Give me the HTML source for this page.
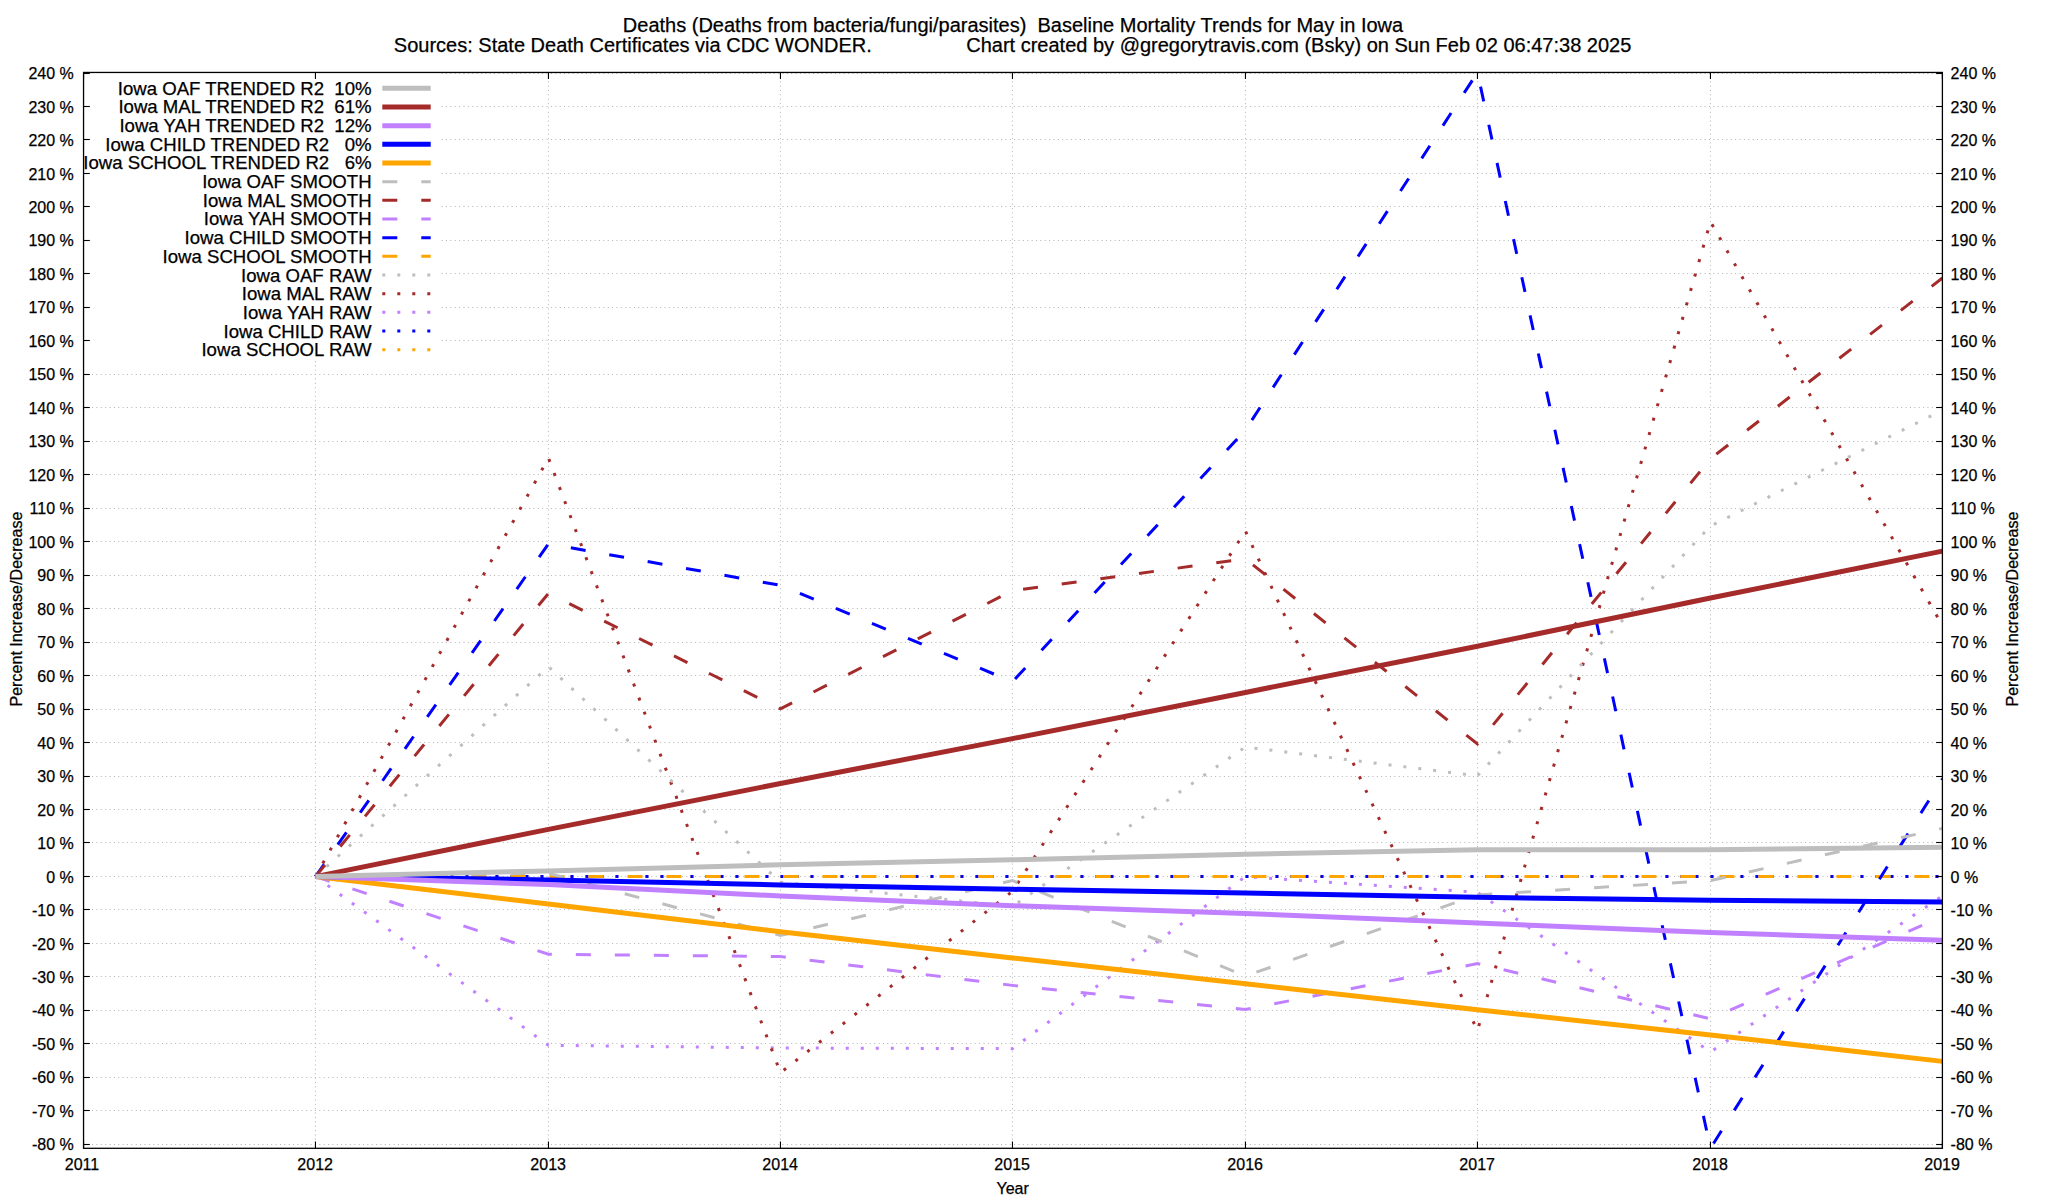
<!DOCTYPE html>
<html><head><meta charset="utf-8"><title>Deaths Baseline Mortality Trends for May in Iowa</title>
<style>
html,body{margin:0;padding:0;background:#fff;}
body{width:2048px;height:1200px;overflow:hidden;}
svg{display:block;}
text{font-family:"Liberation Sans",Arial,Helvetica,sans-serif;fill:#000;white-space:pre;stroke:#000;stroke-width:0.25px;}
.t20{font-size:20px}.t18{font-size:18.6px}.t16{font-size:16px}
</style></head><body>
<svg width="2048" height="1200" viewBox="0 0 2048 1200">
<rect width="2048" height="1200" fill="#fff"/>
<text class="t20" x="1013" y="31.6" text-anchor="middle">Deaths (Deaths from bacteria/fungi/parasites)  Baseline Mortality Trends for May in Iowa</text>
<text class="t20" x="1012.6" y="51.9" text-anchor="middle">Sources: State Death Certificates via CDC WONDER.                 Chart created by @gregorytravis.com (Bsky) on Sun Feb 02 06:47:38 2025</text>
<g stroke="#b4b4b4" stroke-width="1" stroke-dasharray="1 3.37" fill="none">
<line x1="92.05" y1="1144.50" x2="1935.40" y2="1144.50"/>
<line x1="92.05" y1="1110.50" x2="1935.40" y2="1110.50"/>
<line x1="92.05" y1="1077.50" x2="1935.40" y2="1077.50"/>
<line x1="92.05" y1="1043.50" x2="1935.40" y2="1043.50"/>
<line x1="92.05" y1="1010.50" x2="1935.40" y2="1010.50"/>
<line x1="92.05" y1="976.50" x2="1935.40" y2="976.50"/>
<line x1="92.05" y1="943.50" x2="1935.40" y2="943.50"/>
<line x1="92.05" y1="909.50" x2="1935.40" y2="909.50"/>
<line x1="92.05" y1="876.50" x2="1935.40" y2="876.50"/>
<line x1="92.05" y1="842.50" x2="1935.40" y2="842.50"/>
<line x1="92.05" y1="809.50" x2="1935.40" y2="809.50"/>
<line x1="92.05" y1="776.50" x2="1935.40" y2="776.50"/>
<line x1="92.05" y1="742.50" x2="1935.40" y2="742.50"/>
<line x1="92.05" y1="709.50" x2="1935.40" y2="709.50"/>
<line x1="92.05" y1="675.50" x2="1935.40" y2="675.50"/>
<line x1="92.05" y1="642.50" x2="1935.40" y2="642.50"/>
<line x1="92.05" y1="608.50" x2="1935.40" y2="608.50"/>
<line x1="92.05" y1="575.50" x2="1935.40" y2="575.50"/>
<line x1="92.05" y1="541.50" x2="1935.40" y2="541.50"/>
<line x1="92.05" y1="508.50" x2="1935.40" y2="508.50"/>
<line x1="92.05" y1="474.50" x2="1935.40" y2="474.50"/>
<line x1="92.05" y1="441.50" x2="1935.40" y2="441.50"/>
<line x1="92.05" y1="407.50" x2="1935.40" y2="407.50"/>
<line x1="92.05" y1="374.50" x2="1935.40" y2="374.50"/>
<line x1="92.05" y1="340.50" x2="1935.40" y2="340.50"/>
<line x1="92.05" y1="307.50" x2="1935.40" y2="307.50"/>
<line x1="92.05" y1="273.50" x2="1935.40" y2="273.50"/>
<line x1="92.05" y1="240.50" x2="1935.40" y2="240.50"/>
<line x1="92.05" y1="206.50" x2="1935.40" y2="206.50"/>
<line x1="92.05" y1="173.50" x2="1935.40" y2="173.50"/>
<line x1="92.05" y1="139.50" x2="1935.40" y2="139.50"/>
<line x1="92.05" y1="106.50" x2="1935.40" y2="106.50"/>
<line x1="92.05" y1="73.50" x2="1935.40" y2="73.50"/>
<line x1="315.45" y1="1139.80" x2="315.45" y2="79.45"/>
<line x1="548.45" y1="1139.80" x2="548.45" y2="79.45"/>
<line x1="780.45" y1="1139.80" x2="780.45" y2="79.45"/>
<line x1="1012.45" y1="1139.80" x2="1012.45" y2="79.45"/>
<line x1="1245.45" y1="1139.80" x2="1245.45" y2="79.45"/>
<line x1="1477.45" y1="1139.80" x2="1477.45" y2="79.45"/>
<line x1="1710.45" y1="1139.80" x2="1710.45" y2="79.45"/>
</g>
<clipPath id="pc"><rect x="83.55" y="72.45" width="1858.8500000000001" height="1075.85"/></clipPath>
<g clip-path="url(#pc)" fill="none" stroke-linejoin="miter" stroke-linecap="butt">
<polyline stroke="#ffa500" stroke-width="3" stroke-dasharray="3 12" points="315.45,876.58 548.45,876.58 780.45,876.58 1012.45,876.58 1245.45,876.58 1477.45,876.58 1710.45,876.58 1942.40,876.58"/>
<polyline stroke="#0000ff" stroke-width="3" stroke-dasharray="3 12" points="315.45,876.58 548.45,876.58 780.45,876.58 1012.45,876.58 1245.45,876.58 1477.45,876.58 1710.45,876.58 1942.40,876.58"/>
<polyline stroke="#c080ff" stroke-width="3" stroke-dasharray="3 12" points="315.45,876.58 548.45,1045.30 780.45,1047.98 1012.45,1048.65 1245.45,876.58 1477.45,892.31 1710.45,1052.00 1942.40,895.99"/>
<polyline stroke="#a52a2a" stroke-width="3" stroke-dasharray="3 12" points="315.45,876.58 548.45,458.10 780.45,1072.76 1012.45,891.31 1245.45,531.08 1477.45,1030.57 1710.45,221.74 1942.40,625.49"/>
<polyline stroke="#bebebe" stroke-width="3" stroke-dasharray="3 12" points="315.45,876.58 548.45,666.67 780.45,882.27 1012.45,906.37 1245.45,747.01 1477.45,775.81 1710.45,526.06 1942.40,410.22"/>
<polyline stroke="#ffa500" stroke-width="3" stroke-dasharray="15 24" points="315.45,876.58 548.45,876.58 780.45,876.58 1012.45,876.58 1245.45,876.58 1477.45,876.58 1710.45,876.58 1942.40,876.58"/>
<polyline stroke="#0000ff" stroke-width="3" stroke-dasharray="15 24" points="315.45,876.58 548.45,543.80 780.45,585.32 1012.45,681.73 1245.45,429.98 1477.45,72.43 1710.45,1148.32 1942.40,778.82"/>
<polyline stroke="#c080ff" stroke-width="3" stroke-dasharray="15 24" points="315.45,876.58 548.45,954.24 780.45,956.59 1012.45,985.38 1245.45,1009.48 1477.45,963.62 1710.45,1018.86 1942.40,916.41"/>
<polyline stroke="#a52a2a" stroke-width="3" stroke-dasharray="15 24" points="315.45,876.58 548.45,593.35 780.45,708.85 1012.45,590.67 1245.45,558.87 1477.45,744.00 1710.45,458.77 1942.40,277.99"/>
<polyline stroke="#bebebe" stroke-width="3" stroke-dasharray="15 24" points="315.45,876.58 548.45,873.23 780.45,935.50 1012.45,880.59 1245.45,976.01 1477.45,894.99 1710.45,880.59 1942.40,828.37"/>
<polyline stroke="#ffa500" stroke-width="5" points="315.45,876.58 548.45,904.03 780.45,931.81 1012.45,957.93 1245.45,983.71 1477.45,1009.82 1710.45,1034.93 1942.40,1061.37"/>
<polyline stroke="#0000ff" stroke-width="5" points="315.45,876.58 548.45,879.92 780.45,884.94 1012.45,889.30 1245.45,892.98 1477.45,897.33 1710.45,900.34 1942.40,901.92"/>
<polyline stroke="#c080ff" stroke-width="5" points="315.45,876.58 548.45,884.61 780.45,895.99 1012.45,905.70 1245.45,913.40 1477.45,923.11 1710.45,932.48 1942.40,940.18"/>
<polyline stroke="#a52a2a" stroke-width="5" points="315.45,876.58 548.45,829.37 780.45,783.51 1012.45,738.65 1245.45,692.45 1477.45,646.25 1710.45,598.04 1942.40,551.17"/>
<polyline stroke="#bebebe" stroke-width="5" points="315.45,876.58 548.45,870.88 780.45,864.86 1012.45,859.84 1245.45,854.14 1477.45,849.79 1710.45,849.63 1942.40,847.25"/>
</g>
<rect x="83.55" y="72.45" width="356.65" height="287.15000000000003" fill="#fff"/>
<g stroke="#000" stroke-width="1.1" fill="none">
<line x1="83.55" y1="1144.50" x2="89.85" y2="1144.50"/>
<line x1="1942.40" y1="1144.50" x2="1936.10" y2="1144.50"/>
<line x1="83.55" y1="1110.50" x2="89.85" y2="1110.50"/>
<line x1="1942.40" y1="1110.50" x2="1936.10" y2="1110.50"/>
<line x1="83.55" y1="1077.50" x2="89.85" y2="1077.50"/>
<line x1="1942.40" y1="1077.50" x2="1936.10" y2="1077.50"/>
<line x1="83.55" y1="1043.50" x2="89.85" y2="1043.50"/>
<line x1="1942.40" y1="1043.50" x2="1936.10" y2="1043.50"/>
<line x1="83.55" y1="1010.50" x2="89.85" y2="1010.50"/>
<line x1="1942.40" y1="1010.50" x2="1936.10" y2="1010.50"/>
<line x1="83.55" y1="976.50" x2="89.85" y2="976.50"/>
<line x1="1942.40" y1="976.50" x2="1936.10" y2="976.50"/>
<line x1="83.55" y1="943.50" x2="89.85" y2="943.50"/>
<line x1="1942.40" y1="943.50" x2="1936.10" y2="943.50"/>
<line x1="83.55" y1="909.50" x2="89.85" y2="909.50"/>
<line x1="1942.40" y1="909.50" x2="1936.10" y2="909.50"/>
<line x1="83.55" y1="876.50" x2="89.85" y2="876.50"/>
<line x1="1942.40" y1="876.50" x2="1936.10" y2="876.50"/>
<line x1="83.55" y1="842.50" x2="89.85" y2="842.50"/>
<line x1="1942.40" y1="842.50" x2="1936.10" y2="842.50"/>
<line x1="83.55" y1="809.50" x2="89.85" y2="809.50"/>
<line x1="1942.40" y1="809.50" x2="1936.10" y2="809.50"/>
<line x1="83.55" y1="776.50" x2="89.85" y2="776.50"/>
<line x1="1942.40" y1="776.50" x2="1936.10" y2="776.50"/>
<line x1="83.55" y1="742.50" x2="89.85" y2="742.50"/>
<line x1="1942.40" y1="742.50" x2="1936.10" y2="742.50"/>
<line x1="83.55" y1="709.50" x2="89.85" y2="709.50"/>
<line x1="1942.40" y1="709.50" x2="1936.10" y2="709.50"/>
<line x1="83.55" y1="675.50" x2="89.85" y2="675.50"/>
<line x1="1942.40" y1="675.50" x2="1936.10" y2="675.50"/>
<line x1="83.55" y1="642.50" x2="89.85" y2="642.50"/>
<line x1="1942.40" y1="642.50" x2="1936.10" y2="642.50"/>
<line x1="83.55" y1="608.50" x2="89.85" y2="608.50"/>
<line x1="1942.40" y1="608.50" x2="1936.10" y2="608.50"/>
<line x1="83.55" y1="575.50" x2="89.85" y2="575.50"/>
<line x1="1942.40" y1="575.50" x2="1936.10" y2="575.50"/>
<line x1="83.55" y1="541.50" x2="89.85" y2="541.50"/>
<line x1="1942.40" y1="541.50" x2="1936.10" y2="541.50"/>
<line x1="83.55" y1="508.50" x2="89.85" y2="508.50"/>
<line x1="1942.40" y1="508.50" x2="1936.10" y2="508.50"/>
<line x1="83.55" y1="474.50" x2="89.85" y2="474.50"/>
<line x1="1942.40" y1="474.50" x2="1936.10" y2="474.50"/>
<line x1="83.55" y1="441.50" x2="89.85" y2="441.50"/>
<line x1="1942.40" y1="441.50" x2="1936.10" y2="441.50"/>
<line x1="83.55" y1="407.50" x2="89.85" y2="407.50"/>
<line x1="1942.40" y1="407.50" x2="1936.10" y2="407.50"/>
<line x1="83.55" y1="374.50" x2="89.85" y2="374.50"/>
<line x1="1942.40" y1="374.50" x2="1936.10" y2="374.50"/>
<line x1="83.55" y1="340.50" x2="89.85" y2="340.50"/>
<line x1="1942.40" y1="340.50" x2="1936.10" y2="340.50"/>
<line x1="83.55" y1="307.50" x2="89.85" y2="307.50"/>
<line x1="1942.40" y1="307.50" x2="1936.10" y2="307.50"/>
<line x1="83.55" y1="273.50" x2="89.85" y2="273.50"/>
<line x1="1942.40" y1="273.50" x2="1936.10" y2="273.50"/>
<line x1="83.55" y1="240.50" x2="89.85" y2="240.50"/>
<line x1="1942.40" y1="240.50" x2="1936.10" y2="240.50"/>
<line x1="83.55" y1="206.50" x2="89.85" y2="206.50"/>
<line x1="1942.40" y1="206.50" x2="1936.10" y2="206.50"/>
<line x1="83.55" y1="173.50" x2="89.85" y2="173.50"/>
<line x1="1942.40" y1="173.50" x2="1936.10" y2="173.50"/>
<line x1="83.55" y1="139.50" x2="89.85" y2="139.50"/>
<line x1="1942.40" y1="139.50" x2="1936.10" y2="139.50"/>
<line x1="83.55" y1="106.50" x2="89.85" y2="106.50"/>
<line x1="1942.40" y1="106.50" x2="1936.10" y2="106.50"/>
<line x1="83.55" y1="73.50" x2="89.85" y2="73.50"/>
<line x1="1942.40" y1="73.50" x2="1936.10" y2="73.50"/>
<line x1="83.55" y1="1148.30" x2="83.55" y2="1141.50"/>
<line x1="83.55" y1="72.45" x2="83.55" y2="79.05"/>
<line x1="315.45" y1="1148.30" x2="315.45" y2="1141.50"/>
<line x1="315.45" y1="72.45" x2="315.45" y2="79.05"/>
<line x1="548.45" y1="1148.30" x2="548.45" y2="1141.50"/>
<line x1="548.45" y1="72.45" x2="548.45" y2="79.05"/>
<line x1="780.45" y1="1148.30" x2="780.45" y2="1141.50"/>
<line x1="780.45" y1="72.45" x2="780.45" y2="79.05"/>
<line x1="1012.45" y1="1148.30" x2="1012.45" y2="1141.50"/>
<line x1="1012.45" y1="72.45" x2="1012.45" y2="79.05"/>
<line x1="1245.45" y1="1148.30" x2="1245.45" y2="1141.50"/>
<line x1="1245.45" y1="72.45" x2="1245.45" y2="79.05"/>
<line x1="1477.45" y1="1148.30" x2="1477.45" y2="1141.50"/>
<line x1="1477.45" y1="72.45" x2="1477.45" y2="79.05"/>
<line x1="1710.45" y1="1148.30" x2="1710.45" y2="1141.50"/>
<line x1="1710.45" y1="72.45" x2="1710.45" y2="79.05"/>
<line x1="1942.40" y1="1148.30" x2="1942.40" y2="1141.50"/>
<line x1="1942.40" y1="72.45" x2="1942.40" y2="79.05"/>
</g>
<rect x="83.55" y="72.45" width="1858.8500000000001" height="1075.85" fill="none" stroke="#000" stroke-width="1.3"/>
<g class="t16">
<text x="73.8" y="1150.40" text-anchor="end">-80 %</text>
<text x="1950.6" y="1150.40">-80 %</text>
<text x="73.8" y="1116.92" text-anchor="end">-70 %</text>
<text x="1950.6" y="1116.92">-70 %</text>
<text x="73.8" y="1083.44" text-anchor="end">-60 %</text>
<text x="1950.6" y="1083.44">-60 %</text>
<text x="73.8" y="1049.97" text-anchor="end">-50 %</text>
<text x="1950.6" y="1049.97">-50 %</text>
<text x="73.8" y="1016.49" text-anchor="end">-40 %</text>
<text x="1950.6" y="1016.49">-40 %</text>
<text x="73.8" y="983.01" text-anchor="end">-30 %</text>
<text x="1950.6" y="983.01">-30 %</text>
<text x="73.8" y="949.53" text-anchor="end">-20 %</text>
<text x="1950.6" y="949.53">-20 %</text>
<text x="73.8" y="916.05" text-anchor="end">-10 %</text>
<text x="1950.6" y="916.05">-10 %</text>
<text x="73.8" y="882.58" text-anchor="end">0 %</text>
<text x="1950.6" y="882.58">0 %</text>
<text x="73.8" y="849.10" text-anchor="end">10 %</text>
<text x="1950.6" y="849.10">10 %</text>
<text x="73.8" y="815.62" text-anchor="end">20 %</text>
<text x="1950.6" y="815.62">20 %</text>
<text x="73.8" y="782.14" text-anchor="end">30 %</text>
<text x="1950.6" y="782.14">30 %</text>
<text x="73.8" y="748.66" text-anchor="end">40 %</text>
<text x="1950.6" y="748.66">40 %</text>
<text x="73.8" y="715.18" text-anchor="end">50 %</text>
<text x="1950.6" y="715.18">50 %</text>
<text x="73.8" y="681.71" text-anchor="end">60 %</text>
<text x="1950.6" y="681.71">60 %</text>
<text x="73.8" y="648.23" text-anchor="end">70 %</text>
<text x="1950.6" y="648.23">70 %</text>
<text x="73.8" y="614.75" text-anchor="end">80 %</text>
<text x="1950.6" y="614.75">80 %</text>
<text x="73.8" y="581.27" text-anchor="end">90 %</text>
<text x="1950.6" y="581.27">90 %</text>
<text x="73.8" y="547.79" text-anchor="end">100 %</text>
<text x="1950.6" y="547.79">100 %</text>
<text x="73.8" y="514.32" text-anchor="end">110 %</text>
<text x="1950.6" y="514.32">110 %</text>
<text x="73.8" y="480.84" text-anchor="end">120 %</text>
<text x="1950.6" y="480.84">120 %</text>
<text x="73.8" y="447.36" text-anchor="end">130 %</text>
<text x="1950.6" y="447.36">130 %</text>
<text x="73.8" y="413.88" text-anchor="end">140 %</text>
<text x="1950.6" y="413.88">140 %</text>
<text x="73.8" y="380.40" text-anchor="end">150 %</text>
<text x="1950.6" y="380.40">150 %</text>
<text x="73.8" y="346.93" text-anchor="end">160 %</text>
<text x="1950.6" y="346.93">160 %</text>
<text x="73.8" y="313.45" text-anchor="end">170 %</text>
<text x="1950.6" y="313.45">170 %</text>
<text x="73.8" y="279.97" text-anchor="end">180 %</text>
<text x="1950.6" y="279.97">180 %</text>
<text x="73.8" y="246.49" text-anchor="end">190 %</text>
<text x="1950.6" y="246.49">190 %</text>
<text x="73.8" y="213.01" text-anchor="end">200 %</text>
<text x="1950.6" y="213.01">200 %</text>
<text x="73.8" y="179.53" text-anchor="end">210 %</text>
<text x="1950.6" y="179.53">210 %</text>
<text x="73.8" y="146.06" text-anchor="end">220 %</text>
<text x="1950.6" y="146.06">220 %</text>
<text x="73.8" y="112.58" text-anchor="end">230 %</text>
<text x="1950.6" y="112.58">230 %</text>
<text x="73.8" y="79.10" text-anchor="end">240 %</text>
<text x="1950.6" y="79.10">240 %</text>
<text x="81.95" y="1169.8" text-anchor="middle">2011</text>
<text x="315.15" y="1169.8" text-anchor="middle">2012</text>
<text x="548.15" y="1169.8" text-anchor="middle">2013</text>
<text x="780.15" y="1169.8" text-anchor="middle">2014</text>
<text x="1012.15" y="1169.8" text-anchor="middle">2015</text>
<text x="1245.15" y="1169.8" text-anchor="middle">2016</text>
<text x="1477.15" y="1169.8" text-anchor="middle">2017</text>
<text x="1710.15" y="1169.8" text-anchor="middle">2018</text>
<text x="1942.10" y="1169.8" text-anchor="middle">2019</text>
<text x="1012.6" y="1193.7" text-anchor="middle">Year</text>
<text transform="translate(21.9,609.1) rotate(-90)" text-anchor="middle" style="font-size:16.1px">Percent Increase/Decrease</text>
<text transform="translate(2017.9,609.1) rotate(-90)" text-anchor="middle" style="font-size:16.1px">Percent Increase/Decrease</text>
</g>
<g class="t18">
<text x="371.6" y="94.80" text-anchor="end">Iowa OAF TRENDED R2  10%</text>
<line x1="382.3" y1="88.30" x2="430.7" y2="88.30" stroke="#bebebe" stroke-width="5" fill="none"/>
<text x="371.6" y="113.47" text-anchor="end">Iowa MAL TRENDED R2  61%</text>
<line x1="382.3" y1="106.97" x2="430.7" y2="106.97" stroke="#a52a2a" stroke-width="5" fill="none"/>
<text x="371.6" y="132.14" text-anchor="end">Iowa YAH TRENDED R2  12%</text>
<line x1="382.3" y1="125.64" x2="430.7" y2="125.64" stroke="#c080ff" stroke-width="5" fill="none"/>
<text x="371.6" y="150.81" text-anchor="end">Iowa CHILD TRENDED R2   0%</text>
<line x1="382.3" y1="144.31" x2="430.7" y2="144.31" stroke="#0000ff" stroke-width="5" fill="none"/>
<text x="371.6" y="169.48" text-anchor="end">Iowa SCHOOL TRENDED R2   6%</text>
<line x1="382.3" y1="162.98" x2="430.7" y2="162.98" stroke="#ffa500" stroke-width="5" fill="none"/>
<text x="371.6" y="188.15" text-anchor="end">Iowa OAF SMOOTH</text>
<line x1="382.3" y1="181.65" x2="430.7" y2="181.65" stroke="#bebebe" stroke-width="3" stroke-dasharray="15 24" fill="none"/>
<text x="371.6" y="206.82" text-anchor="end">Iowa MAL SMOOTH</text>
<line x1="382.3" y1="200.32" x2="430.7" y2="200.32" stroke="#a52a2a" stroke-width="3" stroke-dasharray="15 24" fill="none"/>
<text x="371.6" y="225.49" text-anchor="end">Iowa YAH SMOOTH</text>
<line x1="382.3" y1="218.99" x2="430.7" y2="218.99" stroke="#c080ff" stroke-width="3" stroke-dasharray="15 24" fill="none"/>
<text x="371.6" y="244.16" text-anchor="end">Iowa CHILD SMOOTH</text>
<line x1="382.3" y1="237.66" x2="430.7" y2="237.66" stroke="#0000ff" stroke-width="3" stroke-dasharray="15 24" fill="none"/>
<text x="371.6" y="262.83" text-anchor="end">Iowa SCHOOL SMOOTH</text>
<line x1="382.3" y1="256.33" x2="430.7" y2="256.33" stroke="#ffa500" stroke-width="3" stroke-dasharray="15 24" fill="none"/>
<text x="371.6" y="281.50" text-anchor="end">Iowa OAF RAW</text>
<line x1="382.3" y1="275.00" x2="430.7" y2="275.00" stroke="#bebebe" stroke-width="3" stroke-dasharray="3 12" fill="none"/>
<text x="371.6" y="300.17" text-anchor="end">Iowa MAL RAW</text>
<line x1="382.3" y1="293.67" x2="430.7" y2="293.67" stroke="#a52a2a" stroke-width="3" stroke-dasharray="3 12" fill="none"/>
<text x="371.6" y="318.84" text-anchor="end">Iowa YAH RAW</text>
<line x1="382.3" y1="312.34" x2="430.7" y2="312.34" stroke="#c080ff" stroke-width="3" stroke-dasharray="3 12" fill="none"/>
<text x="371.6" y="337.51" text-anchor="end">Iowa CHILD RAW</text>
<line x1="382.3" y1="331.01" x2="430.7" y2="331.01" stroke="#0000ff" stroke-width="3" stroke-dasharray="3 12" fill="none"/>
<text x="371.6" y="356.18" text-anchor="end">Iowa SCHOOL RAW</text>
<line x1="382.3" y1="349.68" x2="430.7" y2="349.68" stroke="#ffa500" stroke-width="3" stroke-dasharray="3 12" fill="none"/>
</g>
</svg></body></html>
